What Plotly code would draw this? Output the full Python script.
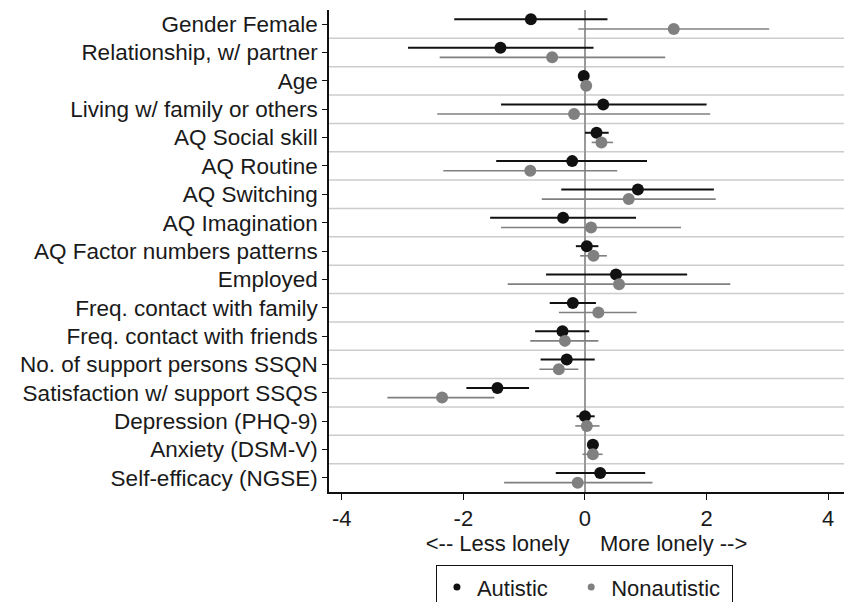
import plotly.graph_objects as go

labels = ["Gender Female", "Relationship, w/ partner", "Age", "Living w/ family or others",
          "AQ Social skill", "AQ Routine", "AQ Switching", "AQ Imagination",
          "AQ Factor numbers patterns", "Employed", "Freq. contact with family",
          "Freq. contact with friends", "No. of support persons SSQN",
          "Satisfaction w/ support SSQS", "Depression (PHQ-9)", "Anxiety (DSM-V)",
          "Self-efficacy (NGSE)"]

aut_est = [-0.89, -1.39, -0.02, 0.30, 0.19, -0.21, 0.87, -0.36, 0.03, 0.51, -0.20, -0.37, -0.30, -1.44, 0.00, 0.13, 0.25]
aut_lo  = [-2.15, -2.91, -0.04, -1.38, 0.00, -1.46, -0.39, -1.56, -0.15, -0.64, -0.58, -0.82, -0.73, -1.95, -0.14, 0.04, -0.48]
aut_hi  = [0.37, 0.14, 0.00, 2.00, 0.39, 1.02, 2.12, 0.84, 0.22, 1.68, 0.18, 0.07, 0.16, -0.92, 0.16, 0.22, 0.99]

non_est = [1.46, -0.54, 0.02, -0.18, 0.27, -0.90, 0.72, 0.10, 0.14, 0.56, 0.22, -0.33, -0.43, -2.35, 0.03, 0.13, -0.12]
non_lo  = [-0.11, -2.39, 0.00, -2.43, 0.11, -2.33, -0.71, -1.38, -0.08, -1.27, -0.43, -0.90, -0.75, -3.25, -0.16, -0.04, -1.33]
non_hi  = [3.03, 1.32, 0.04, 2.06, 0.46, 0.53, 2.15, 1.58, 0.36, 2.39, 0.85, 0.22, -0.11, -1.49, 0.24, 0.29, 1.11]

x_ticks = [-4, -2, 0, 2, 4]

n = len(labels)
pos = list(range(n))
off = 0.17

fig = go.Figure()

def add_series(est, lo, hi, shift, color, lw, name):
    fig.add_trace(go.Scatter(
        x=est, y=[p + shift for p in pos], mode="markers",
        marker=dict(color=color, size=12),
        error_x=dict(type="data", symmetric=False,
                     array=[h - e for h, e in zip(hi, est)],
                     arrayminus=[e - l for e, l in zip(est, lo)],
                     color=color, thickness=lw, width=0),
        showlegend=False, hoverinfo="x"))
    fig.add_trace(go.Scatter(x=[None], y=[None], mode="markers",
                             marker=dict(color=color, size=7), name=name))

add_series(aut_est, aut_lo, aut_hi, -off, "#111111", 2, "Autistic\u00a0\u00a0\u00a0")
add_series(non_est, non_lo, non_hi, off, "#808080", 1.6, "Nonautistic\u00a0")

shapes = []
for i in range(n - 1):
    shapes.append(dict(type="line", xref="paper", x0=0, x1=1, yref="y",
                       y0=i + 0.5, y1=i + 0.5, line=dict(color="#cccccc", width=1.5),
                       layer="below"))
fig.update_layout(shapes=shapes)

fig.update_layout(
    width=844, height=602,
    margin=dict(l=329, r=0, t=10, b=110, autoexpand=False),
    paper_bgcolor="white", plot_bgcolor="white",
    font=dict(family="Liberation Sans, Arial, sans-serif", size=22, color="#1a1a1a"),
    xaxis=dict(range=[-4.21, 4.26], tickvals=x_ticks, ticktext=[str(t) for t in x_ticks],
               automargin=False,
               showgrid=False, zeroline=True, zerolinecolor="#999999", zerolinewidth=1.5,
               showline=True, linecolor="#111111", linewidth=1.5,
               ticks="outside", ticklen=6, tickcolor="#111111",
               tickfont=dict(size=22),
               title=dict(text="<-- Less lonely     More lonely -->", standoff=0,
                          font=dict(size=22))),
    yaxis=dict(range=[n - 0.5, -0.5], tickvals=pos, ticktext=labels,
               automargin=False,
               showgrid=False, zeroline=False,
               showline=True, linecolor="#111111", linewidth=1.5,
               ticks="outside", ticklen=5, tickcolor="#111111",
               tickfont=dict(size=22.5)),
    legend=dict(orientation="h", x=0.496, xanchor="center", y=-0.152, yanchor="top",
                bordercolor="#111111", borderwidth=1, font=dict(size=22),
                itemsizing="trace"),
)

fig.write_html("out.html", post_script="document.body.style.margin='0px';",
               config={"displayModeBar": False})
